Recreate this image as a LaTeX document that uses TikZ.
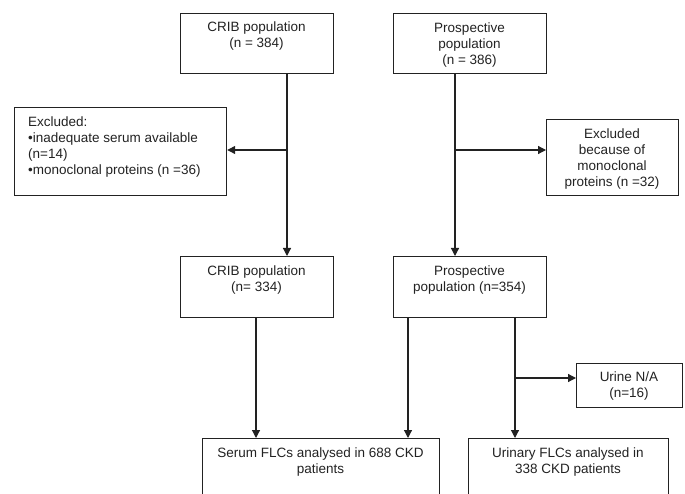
\documentclass[tikz,border=0pt]{standalone}
\usepackage{fontspec}
\setmainfont{Liberation Sans}
\usetikzlibrary{arrows.meta}
\definecolor{ink}{HTML}{222222}
\tikzset{
  box/.style={draw=ink, line width=1.2pt, inner sep=0pt, anchor=north west},
  txt/.style={text=ink, inner sep=0pt, font=\fontsize{13.5}{16}\selectfont, align=center},
  arr/.style={draw=ink, line width=1.2pt, -{Triangle[length=8pt,width=8pt]}},
  ln/.style={draw=ink, line width=1.2pt}
}
\begin{document}
\begin{tikzpicture}[x=1pt,y=-1pt]
\useasboundingbox (0,0) rectangle (685,494);
\clip (0,0) rectangle (685,494);
% boxes
\node[box, minimum width=153pt, minimum height=60pt] (crib1) at (180,13) {};
\node[box, minimum width=153pt, minimum height=60pt] (prosp1) at (393,13) {};
\node[box, minimum width=212pt, minimum height=88pt] (excl1) at (14,107) {};
\node[box, minimum width=132pt, minimum height=76pt] (excl2) at (546,119) {};
\node[box, minimum width=153pt, minimum height=61pt] (crib2) at (180,256) {};
\node[box, minimum width=153pt, minimum height=61pt] (prosp2) at (393,256) {};
\node[box, minimum width=106pt, minimum height=44pt] (urine) at (576,363) {};
\node[box, minimum width=237pt, minimum height=90pt] (serum) at (202,438) {};
\node[box, minimum width=200pt, minimum height=90pt] (urinary) at (468,438) {};
% texts
\node[txt] (t1) at (256.5,36.5) {CRIB population\\(n = 384)};
\node[txt] (t2) at (469.5,45) {Prospective\\population\\(n = 386)};
\node[txt, align=left, anchor=west] (t3) at (28,147) {Excluded:\\•inadequate serum available\\(n=14)\\•monoclonal proteins (n =36)};
\node[txt] (t4) at (612,159) {Excluded\\because of\\monoclonal\\proteins (n =32)};
\node[txt] (t5) at (256.5,280) {CRIB population\\(n= 334)};
\node[txt] (t6) at (469.5,280) {Prospective\\population (n=354)};
\node[txt] (t7) at (629,386) {Urine N/A\\(n=16)};
\node[txt] (t8) at (320.5,462) {Serum FLCs analysed in 688 CKD\\patients};
\node[txt] (t9) at (568,462) {Urinary FLCs analysed in\\338 CKD patients};
% connector coordinates
\coordinate (c1) at (287,150);
\coordinate (c2) at (455,150);
\coordinate (c3) at (256,0);
\coordinate (c4) at (408,0);
\coordinate (c5) at (515,378);
% connectors
\draw[arr] (crib1.south -| c1) -- (crib2.north -| c1);
\draw[arr] (c1) -- (c1 -| excl1.east);
\draw[arr] (prosp1.south -| c2) -- (prosp2.north -| c2);
\draw[arr] (c2) -- (c2 -| excl2.west);
\draw[arr] (crib2.south -| c3) -- (serum.north -| c3);
\draw[arr] (prosp2.south -| c4) -- (serum.north -| c4);
\draw[arr] (prosp2.south -| c5) -- (urinary.north -| c5);
\draw[arr] (c5) -- (c5 -| urine.west);
\end{tikzpicture}
\end{document}
